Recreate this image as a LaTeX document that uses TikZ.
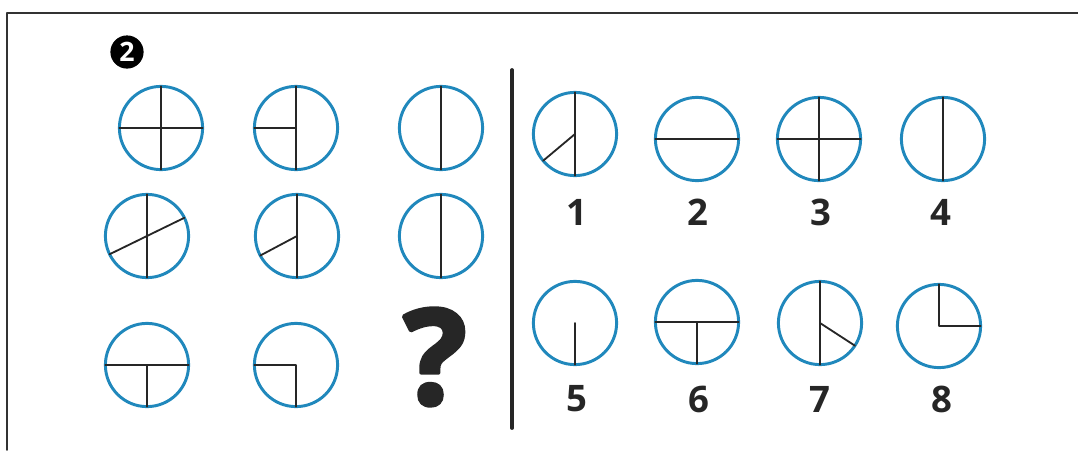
\documentclass[tikz,border=0pt]{standalone}
\usepackage{fontspec}
\setmainfont{Open Sans}
\newfontfamily\qmfont[BoldFeatures={FakeBold=3}]{Open Sans}
\definecolor{ringblue}{RGB}{32,136,188}
\definecolor{inkgray}{RGB}{38,38,38}

\begin{document}
\begin{tikzpicture}[x=0.025cm,y=-0.025cm,line cap=round,line join=round,
    ring/.style={circle,draw=ringblue,line width=2.1pt,minimum size=2.08cm,inner sep=0pt,outer sep=0pt},
    spoke/.style={line width=1.3pt,draw=inkgray},
    digit/.style={font=\fontsize{26}{26}\selectfont\bfseries,text=inkgray,inner sep=0pt}]
  \useasboundingbox (0,0) rectangle (1078,450);
  \draw[line width=1.1pt,black!80] (7,450) -- (7,13) -- (1078,13);
  \node[circle,fill=black,minimum size=0.83cm,inner sep=0pt,text=white,
        font=\fontsize{19}{19}\selectfont\bfseries] (badge) at (127,52) {2};
  \node[ring] (a1) at (161,128) {};
  \node[ring] (a2) at (296,128) {};
  \node[ring] (a3) at (441,128) {};
  \node[ring] (b1) at (147,236) {};
  \node[ring] (b2) at (297,236) {};
  \node[ring] (b3) at (441,236) {};
  \node[ring] (c1) at (147,365) {};
  \node[ring] (c2) at (296,365) {};
  \node[font=\fontsize{94}{94}\qmfont\bfseries,text=inkgray,inner sep=0pt] (qm) at (435,357) {?};
  \draw[spoke] (a1.north) -- (a1.south);
  \draw[spoke] (a1.west) -- (a1.east);
  \draw[spoke] (a2.north) -- (a2.south);
  \draw[spoke] (a2.west) -- (a2.center);
  \draw[spoke] (a3.north) -- (a3.south);
  \draw[spoke] (b1.north) -- (b1.south);
  \draw[spoke] (b1.206) -- (b1.26);
  \draw[spoke] (b2.north) -- (b2.south);
  \draw[spoke] (b2.center) -- (b2.208);
  \draw[spoke] (b3.north) -- (b3.south);
  \draw[spoke] (c1.west) -- (c1.east);
  \draw[spoke] (c1.center) -- (c1.south);
  \draw[spoke] (c2.west) -- (c2.center) -- (c2.south);
  \coordinate (divtop) at (512,70);
  \coordinate (divbot) at (512,428);
  \draw[line width=2.7pt,inkgray] (divtop) -- (divbot);
  \node[ring] (o1) at (575,134) {};
  \node[ring] (o2) at (697,139) {};
  \node[ring] (o3) at (819,139) {};
  \node[ring] (o4) at (943,139) {};
  \node[ring] (o5) at (575,323) {};
  \node[ring] (o6) at (697,322) {};
  \node[ring] (o7) at (820,323) {};
  \node[ring] (o8) at (939,326) {};
  \draw[spoke] (o1.north) -- (o1.south);
  \draw[spoke] (o1.center) -- (o1.220);
  \draw[spoke] (o2.west) -- (o2.east);
  \draw[spoke] (o3.west) -- (o3.east);
  \draw[spoke] (o3.north) -- (o3.south);
  \draw[spoke] (o4.north) -- (o4.south);
  \draw[spoke] (o5.center) -- (o5.south);
  \draw[spoke] (o6.west) -- (o6.east);
  \draw[spoke] (o6.center) -- (o6.south);
  \draw[spoke] (o7.north) -- (o7.south);
  \draw[spoke] (o7.center) -- (o7.-33);
  \draw[spoke] (o8.north) -- (o8.center) -- (o8.east);
  \node[digit] (l1) at (577,212) {1};
  \node[digit] (l2) at (698,212) {2};
  \node[digit] (l3) at (821,212) {3};
  \node[digit] (l4) at (941,212) {4};
  \node[digit] (l5) at (577,399) {5};
  \node[digit] (l6) at (699,399) {6};
  \node[digit] (l7) at (820,399) {7};
  \node[digit] (l8) at (942,399) {8};
\end{tikzpicture}
\end{document}
